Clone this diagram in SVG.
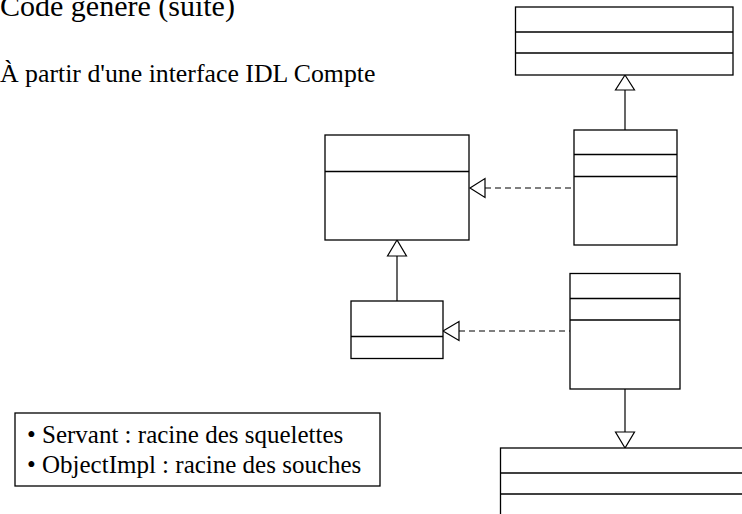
<svg xmlns="http://www.w3.org/2000/svg" width="742" height="514" viewBox="0 0 742 514">
  <style>
    .box { fill: #ffffff; stroke: #000000; stroke-width: 1.3; }
    .div { stroke: #000000; stroke-width: 1.3; fill: none; }
    .gen { stroke: #000000; stroke-width: 1.2; fill: none; }
    .real { stroke: #000000; stroke-width: 1.2; fill: none; stroke-dasharray: 6 4; }
    .tri { fill: #ffffff; stroke: #000000; stroke-width: 1.2; }
  </style>

  <rect width="742" height="514" fill="#ffffff"/>

  <g font-family="'Liberation Serif', 'DejaVu Serif', serif" fill="#000000">
    <text x="0" y="16" font-size="30">Code généré (suite)</text>
    <text x="0" y="82" font-size="25.8">À partir d'une interface IDL Compte</text>
  </g>

  <!-- connectors -->
  <g id="connectors">
    <line class="gen" x1="625" y1="90" x2="625" y2="130"/>
    <polygon class="tri" points="625,75 615.5,90 634.5,90"/>

    <line class="real" x1="485" y1="188" x2="574" y2="188"/>
    <polygon class="tri" points="470,188 485,178.5 485,197.5"/>

    <line class="gen" x1="397" y1="256" x2="397" y2="301"/>
    <polygon class="tri" points="397,240 387.5,256 406.5,256"/>

    <line class="real" x1="459" y1="331" x2="570" y2="331"/>
    <polygon class="tri" points="443,331 459,321.5 459,340.5"/>

    <line class="gen" x1="625" y1="389" x2="625" y2="432"/>
    <polygon class="tri" points="625,448 615.5,432 634.5,432"/>
  </g>

  <g id="class-top-right">
    <rect class="box" x="515.5" y="7" width="217.5" height="68"/>
    <line class="div" x1="515.5" y1="32" x2="733" y2="32"/>
    <line class="div" x1="515.5" y1="53" x2="733" y2="53"/>
  </g>

  <g id="class-mid-right">
    <rect class="box" x="574" y="130" width="103" height="115"/>
    <line class="div" x1="574" y1="154.5" x2="677" y2="154.5"/>
    <line class="div" x1="574" y1="176.5" x2="677" y2="176.5"/>
  </g>

  <g id="class-mid-left">
    <rect class="box" x="325" y="135" width="144" height="105"/>
    <line class="div" x1="325" y1="171.5" x2="469" y2="171.5"/>
  </g>

  <g id="class-small">
    <rect class="box" x="351" y="301" width="92" height="57.5"/>
    <line class="div" x1="351" y1="336.5" x2="443" y2="336.5"/>
  </g>

  <g id="class-low-right">
    <rect class="box" x="570" y="273.5" width="110" height="115.5"/>
    <line class="div" x1="570" y1="298.5" x2="680" y2="298.5"/>
    <line class="div" x1="570" y1="320" x2="680" y2="320"/>
  </g>

  <g id="class-bottom">
    <rect class="box" x="500.5" y="448" width="260" height="90"/>
    <line class="div" x1="500.5" y1="473" x2="742" y2="473"/>
    <line class="div" x1="500.5" y1="494" x2="742" y2="494"/>
  </g>

  <g id="legend">
    <rect class="box" x="15" y="413" width="365" height="73"/>
    <g font-family="'Liberation Serif', 'DejaVu Serif', serif" font-size="25" fill="#000000">
      <text x="27" y="443">• Servant : racine des squelettes</text>
      <text x="27" y="473">• ObjectImpl : racine des souches</text>
    </g>
  </g>
</svg>
